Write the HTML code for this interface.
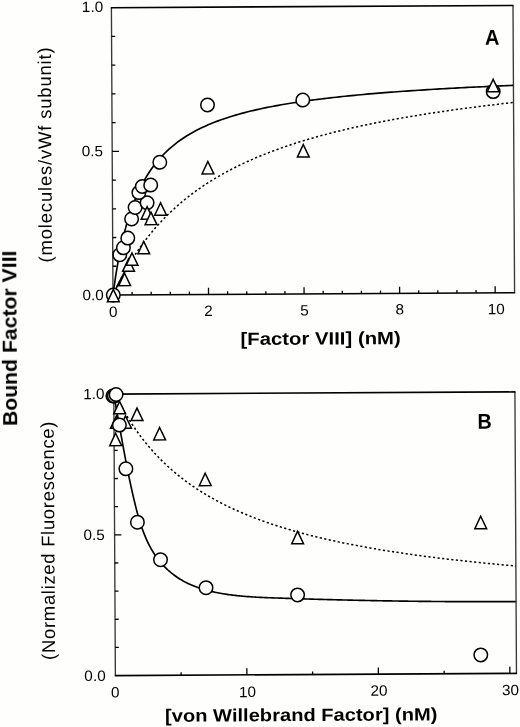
<!DOCTYPE html>
<html><head><meta charset="utf-8"><style>
html,body{margin:0;padding:0;background:#fefefd;}
body{width:520px;height:727px;overflow:hidden;}
svg{display:block;}
</style></head><body>
<svg width="520" height="727" viewBox="0 0 520 727">
<rect width="520" height="727" fill="#fefefd"/>
<path d="M113.66 394.14 L113.91 395.50 L114.17 396.85 L114.42 398.20 L114.67 399.54 L114.92 400.89 L115.17 402.24 L115.42 403.58 L115.66 404.92 L115.91 406.26 L116.15 407.60 L116.40 408.94 L116.64 410.28 L116.88 411.61 L117.12 412.95 L117.36 414.28 L117.60 415.62 L117.84 416.95 L118.08 418.28 L118.32 419.61 L118.55 420.94 L118.79 422.27 L119.03 423.60 L119.26 424.92 L119.50 426.25 L119.74 427.57 L119.97 428.90 L120.21 430.22 L120.44 431.55 L120.68 432.87 L120.92 434.19 L121.15 435.52 L121.39 436.84 L121.63 438.16 L121.86 439.48 L122.10 440.80 L122.34 442.12 L122.58 443.45 L122.82 444.77 L123.06 446.09 L123.30 447.41 L123.54 448.73 L123.78 450.05 L124.03 451.37 L124.27 452.69 L124.52 454.01 L124.77 455.33 L125.01 456.65 L125.26 457.97 L125.51 459.29 L125.77 460.62 L126.02 461.94 L126.27 463.26 L126.53 464.58 L126.79 465.91 L127.05 467.23 L127.31 468.56 L127.57 469.88 L127.84 471.21 L128.10 472.53 L128.37 473.86 L128.64 475.19 L128.91 476.52 L129.19 477.85 L129.47 479.18 L129.74 480.51 L130.03 481.84 L130.31 483.18 L130.60 484.51 L130.88 485.85 L131.18 487.18 L131.47 488.52 L131.77 489.86 L132.07 491.20 L132.37 492.54 L132.67 493.88 L132.98 495.23 L133.29 496.57 L133.60 497.92 L133.92 499.27 L134.24 500.62 L134.56 501.97 L134.89 503.32 L135.22 504.67 L135.56 506.02 L135.90 507.38 L136.24 508.73 L136.59 510.08 L136.95 511.43 L137.31 512.78 L137.68 514.12 L138.05 515.47 L138.43 516.81 L138.82 518.15 L139.22 519.48 L139.62 520.81 L140.03 522.14 L140.45 523.46 L140.88 524.78 L141.32 526.10 L141.76 527.41 L142.22 528.71 L142.68 530.01 L143.16 531.30 L143.65 532.59 L144.14 533.87 L144.65 535.14 L145.17 536.41 L145.70 537.66 L146.24 538.91 L146.79 540.15 L147.36 541.38 L147.94 542.61 L148.53 543.82 L149.14 545.02 L149.76 546.22 L150.39 547.40 L151.04 548.57 L151.70 549.74 L152.38 550.89 L153.07 552.02 L153.78 553.15 L154.50 554.27 L155.24 555.37 L156.00 556.46 L156.77 557.53 L157.56 558.60 L158.36 559.65 L159.18 560.68 L160.02 561.70 L160.87 562.71 L161.73 563.71 L162.61 564.68 L163.51 565.65 L164.42 566.60 L165.34 567.53 L166.28 568.45 L167.24 569.36 L168.20 570.25 L169.19 571.12 L170.18 571.98 L171.19 572.82 L172.21 573.65 L173.25 574.46 L174.30 575.25 L175.36 576.03 L176.44 576.79 L177.53 577.53 L178.63 578.25 L179.75 578.96 L180.87 579.65 L182.01 580.32 L183.16 580.98 L184.33 581.61 L185.50 582.23 L186.69 582.83 L187.89 583.41 L189.10 583.98 L190.31 584.53 L191.54 585.06 L192.78 585.58 L194.03 586.08 L195.28 586.56 L196.55 587.03 L197.82 587.49 L199.10 587.93 L200.38 588.35 L201.68 588.77 L202.98 589.17 L204.28 589.55 L205.59 589.92 L206.91 590.28 L208.23 590.63 L209.56 590.97 L210.89 591.29 L212.22 591.60 L213.56 591.90 L214.90 592.19 L216.24 592.47 L217.58 592.74 L218.93 593.00 L220.28 593.25 L221.63 593.49 L222.98 593.73 L224.33 593.95 L225.69 594.16 L227.04 594.37 L228.40 594.57 L229.75 594.76 L231.11 594.94 L232.47 595.11 L233.83 595.28 L235.19 595.44 L236.55 595.59 L237.91 595.74 L239.27 595.88 L240.63 596.01 L242.00 596.14 L243.36 596.26 L244.73 596.37 L246.09 596.48 L247.46 596.59 L248.82 596.69 L250.19 596.79 L251.56 596.88 L252.93 596.96 L254.29 597.05 L255.66 597.13 L257.03 597.20 L258.40 597.27 L259.77 597.34 L261.14 597.41 L262.51 597.47 L263.87 597.53 L265.24 597.59 L266.61 597.64 L267.98 597.70 L269.35 597.75 L270.72 597.80 L272.08 597.85 L273.45 597.90 L274.82 597.95 L276.19 598.00 L277.55 598.04 L278.92 598.09 L280.28 598.14 L281.65 598.18 L283.01 598.23 L284.38 598.27 L285.74 598.32 L287.11 598.36 L288.47 598.41 L289.83 598.45 L291.20 598.50 L292.56 598.54 L293.92 598.58 L295.28 598.63 L296.64 598.67 L298.01 598.71 L299.37 598.76 L300.73 598.80 L302.09 598.84 L303.45 598.88 L304.81 598.92 L306.16 598.96 L307.52 599.00 L308.88 599.04 L310.24 599.08 L311.60 599.12 L312.96 599.16 L314.31 599.20 L315.67 599.24 L317.03 599.28 L318.38 599.32 L319.74 599.36 L321.09 599.39 L322.45 599.43 L323.81 599.47 L325.16 599.51 L326.52 599.54 L327.87 599.58 L329.23 599.61 L330.58 599.65 L331.93 599.69 L333.29 599.72 L334.64 599.76 L336.00 599.79 L337.35 599.82 L338.70 599.86 L340.06 599.89 L341.41 599.92 L342.76 599.96 L344.11 599.99 L345.47 600.02 L346.82 600.05 L348.17 600.09 L349.52 600.12 L350.87 600.15 L352.22 600.18 L353.58 600.21 L354.93 600.24 L356.28 600.27 L357.63 600.30 L358.98 600.33 L360.33 600.36 L361.68 600.39 L363.03 600.42 L364.38 600.44 L365.73 600.47 L367.08 600.50 L368.43 600.53 L369.79 600.55 L371.14 600.58 L372.49 600.61 L373.84 600.63 L375.19 600.66 L376.54 600.68 L377.89 600.71 L379.24 600.73 L380.59 600.76 L381.94 600.78 L383.28 600.81 L384.63 600.83 L385.98 600.85 L387.33 600.88 L388.68 600.90 L390.03 600.92 L391.38 600.94 L392.73 600.96 L394.08 600.99 L395.43 601.01 L396.78 601.03 L398.13 601.05 L399.48 601.07 L400.83 601.09 L402.18 601.11 L403.53 601.13 L404.88 601.14 L406.23 601.16 L407.58 601.18 L408.93 601.20 L410.28 601.22 L411.64 601.23 L412.99 601.25 L414.34 601.27 L415.69 601.28 L417.04 601.30 L418.39 601.32 L419.74 601.33 L421.09 601.35 L422.44 601.36 L423.80 601.38 L425.15 601.39 L426.50 601.40 L427.85 601.42 L429.20 601.43 L430.56 601.44 L431.91 601.45 L433.26 601.47 L434.61 601.48 L435.97 601.49 L437.32 601.50 L438.67 601.51 L440.03 601.52 L441.38 601.53 L442.73 601.54 L444.09 601.55 L445.44 601.56 L446.80 601.57 L448.15 601.58 L449.51 601.59 L450.86 601.60 L452.22 601.60 L453.57 601.61 L454.93 601.62 L456.28 601.62 L457.64 601.63 L459.00 601.64 L460.35 601.64 L461.71 601.65 L463.07 601.65 L464.43 601.66 L465.79 601.66 L467.14 601.66 L468.50 601.67 L469.86 601.67 L471.22 601.67 L472.58 601.68 L473.94 601.68 L475.30 601.68 L476.66 601.68 L478.02 601.68 L479.38 601.69 L480.75 601.69 L482.11 601.69 L483.47 601.69 L484.83 601.69 L486.19 601.69 L487.56 601.68 L488.92 601.68 L490.29 601.68 L491.65 601.68 L493.02 601.68 L494.38 601.67 L495.75 601.67 L497.11 601.67 L498.48 601.66 L499.85 601.66 L501.21 601.66 L502.58 601.65 L503.95 601.65 L505.32 601.64 L506.69 601.63 L508.06 601.63 L509.43 601.62 L510.80 601.62 L512.17 601.61 L513.54 601.60 L514.91 601.59 L516.28 601.58" fill="none" stroke="#000" stroke-width="1.65"/>
<g transform="rotate(-0.315 111.4 7.7)">
<path d="M111.40 7.70V295.00M513.00 7.70V295.00" fill="none" stroke="#383838" stroke-width="1.35"/>
<path d="M110.80 7.70H513.60M110.80 295.00H513.60" fill="none" stroke="#000" stroke-width="1.6"/>
<path d="M111.40 295.00v-6.6M206.95 295.00v-6.6M302.50 295.00v-6.6M398.05 295.00v-6.6M493.60 295.00v-6.6M130.51 295.00v-3.0M149.62 295.00v-3.0M168.73 295.00v-3.0M187.84 295.00v-3.0M226.06 295.00v-3.0M245.17 295.00v-3.0M264.28 295.00v-3.0M283.39 295.00v-3.0M321.61 295.00v-3.0M340.72 295.00v-3.0M359.83 295.00v-3.0M378.94 295.00v-3.0M417.16 295.00v-3.0M436.27 295.00v-3.0M455.38 295.00v-3.0M474.49 295.00v-3.0M111.40 151.35h6.8M111.40 266.27h3.6M111.40 237.54h3.6M111.40 208.81h3.6M111.40 180.08h3.6M111.40 122.62h3.6M111.40 93.89h3.6M111.40 65.16h3.6M111.40 36.43h3.6" stroke="#000" stroke-width="1.3" fill="none"/>
<path d="M111.70 394.10V675.60M512.80 394.10V675.60" fill="none" stroke="#383838" stroke-width="1.35"/>
<path d="M111.10 394.10H513.40M111.10 675.60H513.40" fill="none" stroke="#000" stroke-width="1.6"/>
<path d="M243.20 675.60v-6.6M374.70 675.60v-6.6M506.20 675.60v-6.6M177.45 675.60v-3.0M308.95 675.60v-3.0M440.45 675.60v-3.0M111.70 534.85h6.8M111.70 647.45h3.6M111.70 619.30h3.6M111.70 591.15h3.6M111.70 563.00h3.6M111.70 506.70h3.6M111.70 478.55h3.6M111.70 450.40h3.6M111.70 422.25h3.6" stroke="#000" stroke-width="1.3" fill="none"/>
<path d="M111.40 295.00 L112.05 290.33 L112.70 285.85 L113.34 281.55 L113.99 277.42 L114.64 273.45 L115.29 269.63 L115.93 265.95 L116.58 262.41 L117.23 258.99 L117.88 255.70 L118.53 252.52 L119.17 249.44 L119.82 246.47 L120.47 243.60 L121.12 240.82 L121.76 238.13 L122.41 235.52 L123.06 232.99 L123.71 230.54 L124.36 228.17 L125.00 225.86 L125.65 223.62 L126.30 221.45 L126.95 219.33 L127.59 217.28 L128.24 215.28 L128.89 213.34 L129.54 211.45 L130.19 209.60 L130.83 207.81 L131.48 206.06 L132.13 204.36 L132.78 202.70 L133.43 201.08 L134.07 199.50 L134.72 197.96 L135.37 196.45 L136.02 194.98 L136.66 193.55 L137.31 192.14 L137.96 190.77 L138.61 189.44 L139.26 188.13 L139.90 186.84 L140.55 185.59 L141.20 184.37 L141.85 183.17 L142.49 181.99 L143.14 180.84 L143.79 179.72 L144.44 178.61 L145.09 177.53 L145.73 176.47 L146.38 175.44 L147.03 174.42 L147.68 173.42 L148.32 172.44 L148.97 171.48 L149.62 170.54 L152.67 166.34 L155.72 162.47 L158.77 158.91 L161.82 155.62 L164.88 152.57 L167.93 149.74 L170.98 147.10 L174.03 144.63 L177.08 142.31 L180.13 140.14 L183.18 138.10 L186.23 136.18 L189.29 134.37 L192.34 132.65 L195.39 131.03 L198.44 129.49 L201.49 128.03 L204.54 126.65 L207.59 125.32 L210.64 124.07 L213.69 122.86 L216.75 121.72 L219.80 120.62 L222.85 119.57 L225.90 118.57 L228.95 117.60 L232.00 116.68 L235.05 115.79 L238.10 114.94 L241.16 114.12 L244.21 113.33 L247.26 112.57 L250.31 111.83 L253.36 111.13 L256.41 110.44 L259.46 109.78 L262.51 109.15 L265.56 108.53 L268.62 107.93 L271.67 107.36 L274.72 106.80 L277.77 106.25 L280.82 105.73 L283.87 105.22 L286.92 104.73 L289.97 104.25 L293.03 103.78 L296.08 103.33 L299.13 102.89 L302.18 102.46 L305.23 102.04 L308.28 101.64 L311.33 101.24 L314.38 100.86 L317.43 100.49 L320.49 100.12 L323.54 99.77 L326.59 99.42 L329.64 99.08 L332.69 98.75 L335.74 98.43 L338.79 98.12 L341.84 97.81 L344.90 97.51 L347.95 97.22 L351.00 96.93 L354.05 96.65 L357.10 96.38 L360.15 96.11 L363.20 95.85 L366.25 95.59 L369.30 95.34 L372.36 95.09 L375.41 94.85 L378.46 94.62 L381.51 94.38 L384.56 94.16 L387.61 93.94 L390.66 93.72 L393.71 93.51 L396.77 93.30 L399.82 93.09 L402.87 92.89 L405.92 92.69 L408.97 92.50 L412.02 92.31 L415.07 92.12 L418.12 91.94 L421.17 91.76 L424.23 91.58 L427.28 91.41 L430.33 91.24 L433.38 91.07 L436.43 90.91 L439.48 90.74 L442.53 90.59 L445.58 90.43 L448.64 90.28 L451.69 90.12 L454.74 89.97 L457.79 89.83 L460.84 89.68 L463.89 89.54 L466.94 89.40 L469.99 89.27 L473.04 89.13 L476.10 89.00 L479.15 88.87 L482.20 88.74 L485.25 88.61 L488.30 88.48 L491.35 88.36 L494.40 88.24 L497.45 88.12 L500.51 88.00 L503.56 87.88 L506.61 87.77 L509.66 87.66 L512.71 87.54" fill="none" stroke="#000" stroke-width="1.65"/>
<path d="M111.40 295.00 L112.05 293.61 L112.70 292.24 L113.34 290.89 L113.99 289.55 L114.64 288.22 L115.29 286.91 L115.93 285.62 L116.58 284.34 L117.23 283.07 L117.88 281.81 L118.53 280.57 L119.17 279.35 L119.82 278.13 L120.47 276.93 L121.12 275.74 L121.76 274.56 L122.41 273.40 L123.06 272.25 L123.71 271.11 L124.36 269.98 L125.00 268.86 L125.65 267.76 L126.30 266.66 L126.95 265.58 L127.59 264.51 L128.24 263.44 L128.89 262.39 L129.54 261.35 L130.19 260.32 L130.83 259.30 L131.48 258.29 L132.13 257.29 L132.78 256.30 L133.43 255.31 L134.07 254.34 L134.72 253.38 L135.37 252.42 L136.02 251.48 L136.66 250.54 L137.31 249.61 L137.96 248.69 L138.61 247.78 L139.26 246.88 L139.90 245.99 L140.55 245.10 L141.20 244.22 L141.85 243.35 L142.49 242.49 L143.14 241.63 L143.79 240.79 L144.44 239.95 L145.09 239.11 L145.73 238.29 L146.38 237.47 L147.03 236.66 L147.68 235.86 L148.32 235.06 L148.97 234.27 L149.62 233.49 L152.67 229.89 L155.72 226.43 L158.77 223.10 L161.82 219.89 L164.88 216.80 L167.93 213.82 L170.98 210.95 L174.03 208.18 L177.08 205.50 L180.13 202.91 L183.18 200.41 L186.23 197.99 L189.29 195.64 L192.34 193.37 L195.39 191.17 L198.44 189.03 L201.49 186.96 L204.54 184.96 L207.59 183.00 L210.64 181.11 L213.69 179.27 L216.75 177.48 L219.80 175.74 L222.85 174.05 L225.90 172.40 L228.95 170.79 L232.00 169.23 L235.05 167.71 L238.10 166.23 L241.16 164.78 L244.21 163.37 L247.26 161.99 L250.31 160.65 L253.36 159.34 L256.41 158.06 L259.46 156.81 L262.51 155.59 L265.56 154.40 L268.62 153.23 L271.67 152.09 L274.72 150.98 L277.77 149.89 L280.82 148.82 L283.87 147.77 L286.92 146.75 L289.97 145.75 L293.03 144.77 L296.08 143.81 L299.13 142.87 L302.18 141.95 L305.23 141.04 L308.28 140.16 L311.33 139.29 L314.38 138.44 L317.43 137.60 L320.49 136.78 L323.54 135.98 L326.59 135.19 L329.64 134.41 L332.69 133.65 L335.74 132.91 L338.79 132.17 L341.84 131.45 L344.90 130.74 L347.95 130.05 L351.00 129.37 L354.05 128.69 L357.10 128.03 L360.15 127.38 L363.20 126.75 L366.25 126.12 L369.30 125.50 L372.36 124.89 L375.41 124.30 L378.46 123.71 L381.51 123.13 L384.56 122.56 L387.61 122.00 L390.66 121.45 L393.71 120.90 L396.77 120.37 L399.82 119.84 L402.87 119.32 L405.92 118.81 L408.97 118.31 L412.02 117.81 L415.07 117.32 L418.12 116.84 L421.17 116.36 L424.23 115.90 L427.28 115.43 L430.33 114.98 L433.38 114.53 L436.43 114.09 L439.48 113.65 L442.53 113.22 L445.58 112.80 L448.64 112.38 L451.69 111.97 L454.74 111.56 L457.79 111.16 L460.84 110.76 L463.89 110.37 L466.94 109.98 L469.99 109.60 L473.04 109.22 L476.10 108.85 L479.15 108.49 L482.20 108.12 L485.25 107.76 L488.30 107.41 L491.35 107.06 L494.40 106.72 L497.45 106.38 L500.51 106.04 L503.56 105.71 L506.61 105.38 L509.66 105.06 L512.71 104.73" fill="none" stroke="#000" stroke-width="1.5" stroke-dasharray="2.2 2.4"/>
<path d="M111.40 295.00 L113.18 291.22 L114.97 287.56 L116.75 284.00 L118.53 280.56 L120.32 277.21 L122.10 273.96 L123.89 270.80 L125.67 267.73 L127.45 264.74" fill="none" stroke="#000" stroke-width="1.65"/>
<path d="M111.70 391.88 L112.20 392.92 L112.70 393.95 L113.20 394.97 L113.70 395.99 L114.20 396.99 L114.70 397.99 L115.20 398.97 L115.69 399.95 L116.19 400.92 L116.69 401.88 L117.19 402.83 L117.69 403.77 L118.19 404.71 L118.69 405.63 L119.19 406.55 L119.69 407.46 L120.19 408.37 L120.69 409.26 L121.19 410.15 L121.69 411.03 L122.19 411.90 L122.69 412.76 L123.19 413.62 L123.68 414.47 L124.18 415.31 L124.68 416.15 L125.18 416.97 L125.68 417.80 L126.18 418.61 L126.68 419.42 L127.18 420.22 L127.68 421.01 L128.18 421.80 L128.68 422.59 L129.18 423.36 L129.68 424.13 L130.18 424.89 L130.68 425.65 L131.18 426.40 L131.67 427.15 L132.17 427.89 L132.67 428.62 L133.17 429.35 L133.67 430.07 L134.17 430.79 L134.67 431.50 L135.17 432.20 L135.67 432.90 L136.17 433.60 L136.67 434.29 L137.17 434.97 L137.67 435.65 L138.17 436.33 L138.67 437.00 L139.17 437.66 L139.66 438.32 L140.16 438.97 L140.66 439.62 L141.16 440.27 L141.66 440.91 L142.16 441.54 L142.66 442.17 L143.16 442.80 L143.66 443.42 L144.16 444.04 L144.66 444.65 L145.16 445.26 L145.66 445.86 L146.16 446.46 L146.66 447.06 L147.16 447.65 L147.65 448.24 L148.15 448.82 L148.65 449.40 L149.15 449.97 L149.65 450.54 L150.15 451.11 L150.65 451.67 L151.15 452.23 L153.58 454.90 L156.00 457.48 L158.43 459.97 L160.86 462.39 L163.29 464.74 L165.71 467.01 L168.14 469.22 L170.57 471.36 L172.99 473.44 L175.42 475.46 L177.85 477.42 L180.27 479.33 L182.70 481.18 L185.13 482.99 L187.56 484.75 L189.98 486.46 L192.41 488.13 L194.84 489.75 L197.26 491.34 L199.69 492.88 L202.12 494.39 L204.54 495.86 L206.97 497.29 L209.40 498.69 L211.83 500.06 L214.25 501.39 L216.68 502.70 L219.11 503.97 L221.53 505.22 L223.96 506.44 L226.39 507.63 L228.81 508.79 L231.24 509.93 L233.67 511.05 L236.10 512.14 L238.52 513.21 L240.95 514.26 L243.38 515.29 L245.80 516.30 L248.23 517.28 L250.66 518.25 L253.08 519.20 L255.51 520.13 L257.94 521.04 L260.37 521.93 L262.79 522.81 L265.22 523.67 L267.65 524.51 L270.07 525.34 L272.50 526.16 L274.93 526.96 L277.35 527.74 L279.78 528.51 L282.21 529.27 L284.64 530.02 L287.06 530.75 L289.49 531.47 L291.92 532.18 L294.34 532.87 L296.77 533.56 L299.20 534.23 L301.62 534.89 L304.05 535.54 L306.48 536.18 L308.91 536.81 L311.33 537.43 L313.76 538.04 L316.19 538.64 L318.61 539.23 L321.04 539.82 L323.47 540.39 L325.89 540.95 L328.32 541.51 L330.75 542.06 L333.18 542.60 L335.60 543.13 L338.03 543.65 L340.46 544.17 L342.88 544.68 L345.31 545.18 L347.74 545.68 L350.17 546.16 L352.59 546.65 L355.02 547.12 L357.45 547.59 L359.87 548.05 L362.30 548.50 L364.73 548.95 L367.15 549.40 L369.58 549.83 L372.01 550.26 L374.44 550.69 L376.86 551.11 L379.29 551.52 L381.72 551.93 L384.14 552.34 L386.57 552.74 L389.00 553.13 L391.42 553.52 L393.85 553.90 L396.28 554.28 L398.71 554.66 L401.13 555.03 L403.56 555.39 L405.99 555.75 L408.41 556.11 L410.84 556.46 L413.27 556.81 L415.69 557.16 L418.12 557.50 L420.55 557.83 L422.98 558.16 L425.40 558.49 L427.83 558.82 L430.26 559.14 L432.68 559.45 L435.11 559.77 L437.54 560.08 L439.96 560.38 L442.39 560.69 L444.82 560.99 L447.25 561.28 L449.67 561.58 L452.10 561.87 L454.53 562.16 L456.95 562.44 L459.38 562.72 L461.81 563.00 L464.23 563.27 L466.66 563.55 L469.09 563.81 L471.52 564.08 L473.94 564.34 L476.37 564.61 L478.80 564.86 L481.22 565.12 L483.65 565.37 L486.08 565.62 L488.50 565.87 L490.93 566.12 L493.36 566.36 L495.79 566.60 L498.21 566.84 L500.64 567.07 L503.07 567.31 L505.49 567.54 L507.92 567.77 L510.35 568.00 L512.77 568.22" fill="none" stroke="#000" stroke-width="1.5" stroke-dasharray="2.2 2.4"/>
<circle cx="111.72" cy="295.01" r="6.75" fill="#fefefd" stroke="#000" stroke-width="1.5"/>
<circle cx="118.44" cy="254.84" r="6.75" fill="#fefefd" stroke="#000" stroke-width="1.5"/>
<circle cx="122.08" cy="247.86" r="6.75" fill="#fefefd" stroke="#000" stroke-width="1.5"/>
<circle cx="126.53" cy="238.19" r="6.75" fill="#fefefd" stroke="#000" stroke-width="1.5"/>
<circle cx="130.44" cy="219.11" r="6.75" fill="#fefefd" stroke="#000" stroke-width="1.5"/>
<circle cx="134.00" cy="207.63" r="6.75" fill="#fefefd" stroke="#000" stroke-width="1.5"/>
<circle cx="146.03" cy="202.99" r="6.75" fill="#fefefd" stroke="#000" stroke-width="1.5"/>
<circle cx="137.88" cy="192.75" r="6.75" fill="#fefefd" stroke="#000" stroke-width="1.5"/>
<circle cx="141.32" cy="186.57" r="6.75" fill="#fefefd" stroke="#000" stroke-width="1.5"/>
<circle cx="149.72" cy="185.31" r="6.75" fill="#fefefd" stroke="#000" stroke-width="1.5"/>
<circle cx="158.95" cy="162.56" r="6.75" fill="#fefefd" stroke="#000" stroke-width="1.5"/>
<circle cx="206.96" cy="105.43" r="6.75" fill="#fefefd" stroke="#000" stroke-width="1.5"/>
<circle cx="302.29" cy="101.15" r="6.75" fill="#fefefd" stroke="#000" stroke-width="1.5"/>
<circle cx="492.73" cy="93.70" r="6.75" fill="#fefefd" stroke="#000" stroke-width="1.5"/>
<path d="M111.72 289.41L117.62 301.81L105.82 301.81Z" fill="#fefefd" stroke="#000" stroke-width="1.5" stroke-miterlimit="10"/>
<path d="M123.11 273.27L129.01 285.67L117.21 285.67Z" fill="#fefefd" stroke="#000" stroke-width="1.5" stroke-miterlimit="10"/>
<path d="M127.09 258.99L132.99 271.39L121.19 271.39Z" fill="#fefefd" stroke="#000" stroke-width="1.5" stroke-miterlimit="10"/>
<path d="M130.62 253.01L136.52 265.41L124.72 265.41Z" fill="#fefefd" stroke="#000" stroke-width="1.5" stroke-miterlimit="10"/>
<path d="M142.38 241.57L148.28 253.97L136.48 253.97Z" fill="#fefefd" stroke="#000" stroke-width="1.5" stroke-miterlimit="10"/>
<path d="M145.97 206.89L151.87 219.29L140.07 219.29Z" fill="#fefefd" stroke="#000" stroke-width="1.5" stroke-miterlimit="10"/>
<path d="M149.84 212.41L155.74 224.81L143.94 224.81Z" fill="#fefefd" stroke="#000" stroke-width="1.5" stroke-miterlimit="10"/>
<path d="M159.50 203.07L165.40 215.47L153.60 215.47Z" fill="#fefefd" stroke="#000" stroke-width="1.5" stroke-miterlimit="10"/>
<path d="M207.02 162.03L212.92 174.43L201.12 174.43Z" fill="#fefefd" stroke="#000" stroke-width="1.5" stroke-miterlimit="10"/>
<path d="M302.51 145.65L308.41 158.05L296.61 158.05Z" fill="#fefefd" stroke="#000" stroke-width="1.5" stroke-miterlimit="10"/>
<path d="M492.77 81.40L498.67 93.80L486.87 93.80Z" fill="#fefefd" stroke="#000" stroke-width="1.5" stroke-miterlimit="10"/>
<path d="M117.40 401.44L123.30 413.84L111.50 413.84Z" fill="#fefefd" stroke="#000" stroke-width="1.5" stroke-miterlimit="10"/>
<path d="M134.77 408.23L140.67 420.63L128.87 420.63Z" fill="#fefefd" stroke="#000" stroke-width="1.5" stroke-miterlimit="10"/>
<path d="M114.12 415.92L120.02 428.32L108.22 428.32Z" fill="#fefefd" stroke="#000" stroke-width="1.5" stroke-miterlimit="10"/>
<path d="M123.22 415.97L129.12 428.37L117.32 428.37Z" fill="#fefefd" stroke="#000" stroke-width="1.5" stroke-miterlimit="10"/>
<path d="M113.23 433.22L119.13 445.62L107.33 445.62Z" fill="#fefefd" stroke="#000" stroke-width="1.5" stroke-miterlimit="10"/>
<path d="M157.26 427.76L163.16 440.16L151.36 440.16Z" fill="#fefefd" stroke="#000" stroke-width="1.5" stroke-miterlimit="10"/>
<path d="M202.61 473.71L208.51 486.11L196.71 486.11Z" fill="#fefefd" stroke="#000" stroke-width="1.5" stroke-miterlimit="10"/>
<path d="M294.69 532.32L300.59 544.72L288.79 544.72Z" fill="#fefefd" stroke="#000" stroke-width="1.5" stroke-miterlimit="10"/>
<path d="M477.87 518.32L483.77 530.72L471.97 530.72Z" fill="#fefefd" stroke="#000" stroke-width="1.5" stroke-miterlimit="10"/>
<circle cx="110.77" cy="396.00" r="6.75" fill="#fefefd" stroke="#000" stroke-width="1.5"/>
<circle cx="112.17" cy="395.91" r="6.75" fill="#fefefd" stroke="#000" stroke-width="1.5"/>
<circle cx="113.97" cy="394.62" r="6.75" fill="#fefefd" stroke="#000" stroke-width="1.5"/>
<circle cx="117.11" cy="425.14" r="6.75" fill="#fefefd" stroke="#000" stroke-width="1.5"/>
<circle cx="123.36" cy="468.87" r="6.75" fill="#fefefd" stroke="#000" stroke-width="1.5"/>
<circle cx="134.57" cy="522.34" r="6.75" fill="#fefefd" stroke="#000" stroke-width="1.5"/>
<circle cx="157.46" cy="559.96" r="6.75" fill="#fefefd" stroke="#000" stroke-width="1.5"/>
<circle cx="202.81" cy="588.21" r="6.75" fill="#fefefd" stroke="#000" stroke-width="1.5"/>
<circle cx="294.37" cy="595.91" r="6.75" fill="#fefefd" stroke="#000" stroke-width="1.5"/>
<circle cx="477.24" cy="656.92" r="6.75" fill="#fefefd" stroke="#000" stroke-width="1.5"/>
</g>
<g opacity="0.999">
<text transform="translate(92.50 12.00) rotate(-0.315) scale(1.022 1)" font-family="Liberation Sans, sans-serif" font-size="15" font-weight="normal" text-anchor="middle">1.0</text>
<text transform="translate(92.30 156.20) rotate(-0.315) scale(1.022 1)" font-family="Liberation Sans, sans-serif" font-size="15" font-weight="normal" text-anchor="middle">0.5</text>
<text transform="translate(93.20 300.20) rotate(-0.315) scale(1.022 1)" font-family="Liberation Sans, sans-serif" font-size="15" font-weight="normal" text-anchor="middle">0.0</text>
<text transform="translate(113.20 316.90) rotate(-0.315) scale(1.022 1)" font-family="Liberation Sans, sans-serif" font-size="15" font-weight="normal" text-anchor="middle">0</text>
<text transform="translate(208.60 316.10) rotate(-0.315) scale(1.022 1)" font-family="Liberation Sans, sans-serif" font-size="15" font-weight="normal" text-anchor="middle">2</text>
<text transform="translate(304.50 315.60) rotate(-0.315) scale(1.022 1)" font-family="Liberation Sans, sans-serif" font-size="15" font-weight="normal" text-anchor="middle">5</text>
<text transform="translate(399.80 314.40) rotate(-0.315) scale(1.022 1)" font-family="Liberation Sans, sans-serif" font-size="15" font-weight="normal" text-anchor="middle">8</text>
<text transform="translate(496.20 314.20) rotate(-0.315) scale(1.022 1)" font-family="Liberation Sans, sans-serif" font-size="15" font-weight="normal" text-anchor="middle">10</text>
<text transform="translate(93.90 399.10) rotate(-0.315) scale(1.022 1)" font-family="Liberation Sans, sans-serif" font-size="15" font-weight="normal" text-anchor="middle">1.0</text>
<text transform="translate(94.20 540.00) rotate(-0.315) scale(1.022 1)" font-family="Liberation Sans, sans-serif" font-size="15" font-weight="normal" text-anchor="middle">0.5</text>
<text transform="translate(95.00 681.00) rotate(-0.315) scale(1.022 1)" font-family="Liberation Sans, sans-serif" font-size="15" font-weight="normal" text-anchor="middle">0.0</text>
<text transform="translate(115.30 697.50) rotate(-0.315) scale(1.022 1)" font-family="Liberation Sans, sans-serif" font-size="15" font-weight="normal" text-anchor="middle">0</text>
<text transform="translate(247.50 697.10) rotate(-0.315) scale(1.022 1)" font-family="Liberation Sans, sans-serif" font-size="15" font-weight="normal" text-anchor="middle">10</text>
<text transform="translate(379.00 695.70) rotate(-0.315) scale(1.022 1)" font-family="Liberation Sans, sans-serif" font-size="15" font-weight="normal" text-anchor="middle">20</text>
<text transform="translate(510.50 695.30) rotate(-0.315) scale(1.022 1)" font-family="Liberation Sans, sans-serif" font-size="15" font-weight="normal" text-anchor="middle">30</text>
<text transform="translate(492.30 44.70) rotate(-0.315) scale(0.93 1)" font-family="Liberation Sans, sans-serif" font-size="21.5" font-weight="bold" text-anchor="middle">A</text>
<text transform="translate(484.60 428.80) rotate(-0.315) scale(0.92 1)" font-family="Liberation Sans, sans-serif" font-size="21.5" font-weight="bold" text-anchor="middle">B</text>
<text transform="translate(320.65 344.50) rotate(-0.315) scale(1.142 1)" font-family="Liberation Sans, sans-serif" font-size="17.8" font-weight="bold" text-anchor="middle">[Factor VIII] (nM)</text>
<text transform="translate(301.25 721.00) rotate(-0.315) scale(1.13 1)" font-family="Liberation Sans, sans-serif" font-size="17.8" font-weight="bold" text-anchor="middle">[von Willebrand Factor] (nM)</text>
<text transform="translate(16.70 338.30) rotate(-90.315) scale(1.1 1)" font-family="Liberation Sans, sans-serif" font-size="19.3" font-weight="bold" text-anchor="middle">Bound Factor VIII</text>
<text transform="translate(51.40 154.90) rotate(-90.315) translate(0.40 0)" font-family="Liberation Sans, sans-serif" font-size="18.5" font-weight="normal" text-anchor="middle" letter-spacing="0.8">(molecules/vWf subunit)</text>
<text transform="translate(54.40 540.70) rotate(-90.315) translate(0.34 0)" font-family="Liberation Sans, sans-serif" font-size="18.5" font-weight="normal" text-anchor="middle" letter-spacing="0.68">(Normalized Fluorescence)</text>
</g>
</svg>
</body></html>
